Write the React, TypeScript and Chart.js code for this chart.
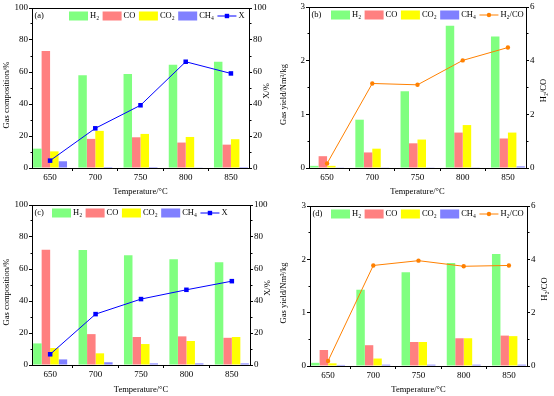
import React, { useEffect, useRef } from "react";
import { Chart, registerables } from "chart.js";
Chart.register(...registerables);

const temps = [650, 700, 750, 800, 850];
const seriesLabels = ["H₂", "CO", "CO₂", "CH₄"];
const seriesColors = ["#80FF80", "#FF8080", "#FFFF00", "#8080FF"];

// panel (a)
const aH2 = [12.1, 58.0, 58.7, 64.5, 66.4];
const aCO = [73.1, 18.2, 19.2, 15.9, 14.6];
const aCO2 = [10.4, 23.2, 21.3, 19.4, 18.0];
const aCH4 = [4.2, 0.6, 0.6, 0.4, 0.6];
const aX = [4.6, 24.8, 39.2, 66.4, 59.1];
// panel (b)
const bH2 = [0.04, 0.9, 1.43, 2.65, 2.45];
const bCO = [0.22, 0.29, 0.46, 0.66, 0.55];
const bCO2 = [0.04, 0.36, 0.53, 0.8, 0.66];
const bCH4 = [0.006, 0.006, 0.006, 0.006, 0.03];
const bRatio = [0.17, 3.15, 3.1, 4.01, 4.49];
// panel (c)
const cH2 = [13.5, 71.9, 68.6, 66.1, 64.2];
const cCO = [72.1, 19.3, 17.5, 17.9, 17.0];
const cCO2 = [10.6, 7.3, 13.1, 15.0, 17.5];
const cCH4 = [3.5, 1.7, 1.0, 1.0, 1.0];
const cX = [6.7, 31.8, 41.2, 47.0, 52.4];
// panel (d)
const dH2 = [0.06, 1.43, 1.76, 1.93, 2.1];
const dCO = [0.3, 0.39, 0.45, 0.52, 0.57];
const dCO2 = [0.05, 0.14, 0.45, 0.52, 0.56];
const dCH4 = [0.02, 0.025, 0.025, 0.025, 0.025];
const dRatio = [0.19, 3.77, 3.95, 3.74, 3.77];

const xTitle = "Temperature/°C";
const compTitle = "Gas composition/%";
const yieldTitle = "Gas yield/Nm³/kg";
const xLabel = "X";
const ratioLabel = "H₂/CO";
const xAxisTitle = "X/%";

const FONT = "'Liberation Serif', 'Times New Roman', serif";
const W = 277;
const H = 198;

type Spec = {
  tag: string;
  bars: number[][];
  line: number[];
  lineLabel: string;
  lineColor: string;
  pointStyle: string;
  pointRadius: number;
  yMax: number;
  yStep: number;
  y2Max: number;
  y2Step: number;
  yTitle: string;
  y2Title: string;
  area: { left: number; right: number; top: number; bottom: number };
  legendStart: number;
};

const specs: Spec[] = [
  {
    tag: "(a)", bars: [aH2, aCO, aCO2, aCH4], line: aX, lineLabel: xLabel,
    lineColor: "#0000FF", pointStyle: "rect", pointRadius: 3.2,
    yMax: 100, yStep: 20, y2Max: 100, y2Step: 20, yTitle: compTitle, y2Title: xAxisTitle,
    area: { left: 32, right: 249, top: 8, bottom: 168 }, legendStart: 37,
  },
  {
    tag: "(b)", bars: [bH2, bCO, bCO2, bCH4], line: bRatio, lineLabel: ratioLabel,
    lineColor: "#FF8000", pointStyle: "circle", pointRadius: 2.2,
    yMax: 3, yStep: 1, y2Max: 6, y2Step: 2, yTitle: yieldTitle, y2Title: ratioLabel,
    area: { left: 32, right: 249, top: 7, bottom: 168 }, legendStart: 22,
  },
  {
    tag: "(c)", bars: [cH2, cCO, cCO2, cCH4], line: cX, lineLabel: xLabel,
    lineColor: "#0000FF", pointStyle: "rect", pointRadius: 3.2,
    yMax: 100, yStep: 20, y2Max: 100, y2Step: 20, yTitle: compTitle, y2Title: xAxisTitle,
    area: { left: 32, right: 250, top: 7, bottom: 167 }, legendStart: 20,
  },
  {
    tag: "(d)", bars: [dH2, dCO, dCO2, dCH4], line: dRatio, lineLabel: ratioLabel,
    lineColor: "#FF8000", pointStyle: "circle", pointRadius: 2.2,
    yMax: 3, yStep: 1, y2Max: 6, y2Step: 2, yTitle: yieldTitle, y2Title: ratioLabel,
    area: { left: 33, right: 250, top: 8, bottom: 168 }, legendStart: 21,
  },
];

const align = (p: number) => Math.round(p - 0.5) + 0.5;

const decor = {
  id: "decor",
  afterDatasetsDraw(chart: any, _args: any, o: any) {
    const { ctx, chartArea: ca, scales } = chart;
    ctx.save();
    ctx.strokeStyle = "#000";
    ctx.lineWidth = 1;
    const L = align(ca.left), R = align(ca.right), T = align(ca.top), B = align(ca.bottom);
    ctx.strokeRect(L, T, R - L, B - T);
    // minor ticks
    const minor = (scale: any, side: string) => {
      const vals = scale.ticks.map((t: any) => t.value);
      for (let i = 0; i < vals.length - 1; i++) {
        const v = (vals[i] + vals[i + 1]) / 2;
        const p = align(scale.getPixelForValue(v));
        ctx.beginPath();
        if (side === "bottom") { ctx.moveTo(p, B); ctx.lineTo(p, B + 2); }
        if (side === "left") { ctx.moveTo(L, p); ctx.lineTo(L - 2, p); }
        if (side === "right") { ctx.moveTo(R, p); ctx.lineTo(R + 2, p); }
        ctx.stroke();
      }
    };
    minor(scales.x, "bottom");
    minor(scales.y, "left");
    minor(scales.y2, "right");
    // legend
    ctx.fillStyle = "#000";
    ctx.font = `8.5px ${FONT}`;
    ctx.textBaseline = "middle";
    ctx.textAlign = "left";
    const ly = ca.top + 8;
    ctx.fillText(o.tag, ca.left + 2.5, ly);
    let x = ca.left + o.legendStart;
    chart.data.datasets.forEach((ds: any) => {
      if (ds.type === "line") {
        ctx.strokeStyle = ds.borderColor;
        ctx.beginPath();
        ctx.moveTo(x, ly);
        ctx.lineTo(x + 19, ly);
        ctx.stroke();
        ctx.fillStyle = ds.borderColor;
        if (ds.pointStyle === "rect") {
          const s = 2.2;
          ctx.fillRect(x + 9.5 - s, ly - s, 2 * s, 2 * s);
        } else {
          ctx.beginPath();
          ctx.arc(x + 9.5, ly, 2.2, 0, Math.PI * 2);
          ctx.fill();
        }
        x += 21;
      } else {
        ctx.fillStyle = ds.backgroundColor;
        ctx.fillRect(x, ly - 4.5, 19, 9);
        x += 21;
      }
      ctx.fillStyle = "#000";
      ctx.fillText(ds.label, x, ly);
      x += ctx.measureText(ds.label).width + 3.5;
    });
    // y titles
    ctx.font = `8.5px ${FONT}`;
    ctx.textAlign = "center";
    const cy = (ca.top + ca.bottom) / 2;
    ctx.save();
    ctx.translate(7, cy + 7);
    ctx.rotate(-Math.PI / 2);
    ctx.fillText(o.yTitle, 0, 0);
    ctx.restore();
    ctx.save();
    ctx.translate(ca.right + 18, cy + 3);
    ctx.rotate(-Math.PI / 2);
    ctx.fillText(o.y2Title, 0, 0);
    ctx.restore();
    ctx.restore();
  },
};

function Panel({ spec, left, top }: { spec: Spec; left: number; top: number }) {
  const ref = useRef<HTMLCanvasElement>(null);
  useEffect(() => {
    const A = spec.area;
    const tickFont = { family: FONT, size: 9 };
    const datasets: any[] = spec.bars.map((vals, k) => ({
      type: "bar",
      label: seriesLabels[k],
      data: temps.map((t, i) => ({ x: t, y: vals[i] })),
      backgroundColor: seriesColors[k],
      borderWidth: 0,
      categoryPercentage: 0.75,
      barPercentage: 1,
      yAxisID: "y",
      order: 1,
    }));
    datasets.push({
      type: "line",
      label: spec.lineLabel,
      data: temps.map((t, i) => ({ x: t, y: spec.line[i] })),
      borderColor: spec.lineColor,
      backgroundColor: spec.lineColor,
      borderWidth: 1,
      pointStyle: spec.pointStyle,
      pointRadius: spec.pointRadius,
      pointBorderWidth: 0,
      yAxisID: "y2",
      order: 0,
    });
    const axisCommon = {
      grid: { drawOnChartArea: false, tickLength: 3, color: "#000" },
      border: { color: "#000", width: 1 },
    };
    const chart = new Chart(ref.current as HTMLCanvasElement, {
      type: "bar",
      data: { datasets },
      options: {
        responsive: false,
        animation: false,
        layout: { padding: { top: A.top, left: 0, right: 0, bottom: 0 } },
        plugins: {
          legend: { display: false },
          tooltip: { enabled: false },
          decor: { tag: spec.tag, legendStart: spec.legendStart, yTitle: spec.yTitle, y2Title: spec.y2Title },
        } as any,
        scales: {
          x: {
            type: "linear",
            min: 630,
            max: 870,
            offset: false,
            afterBuildTicks: (s: any) => { s.ticks = temps.map((v) => ({ value: v })); },
            afterFit: (s: any) => { s.height = H - A.bottom; },
            ticks: { font: tickFont, color: "#000", padding: 1, maxRotation: 0, autoSkip: false, callback: (v: any) => String(v) },
            title: { display: true, text: xTitle, font: { family: FONT, size: 8.5 }, color: "#000", padding: { top: 0, bottom: 1 } },
            ...axisCommon,
          },
          y: {
            position: "left",
            min: 0,
            max: spec.yMax,
            afterFit: (s: any) => { s.width = A.left; },
            ticks: { stepSize: spec.yStep, font: tickFont, color: "#000", padding: 1 },
            ...axisCommon,
          },
          y2: {
            position: "right",
            min: 0,
            max: spec.y2Max,
            afterFit: (s: any) => { s.width = W - A.right; },
            ticks: { stepSize: spec.y2Step, font: tickFont, color: "#000", padding: 1 },
            ...axisCommon,
          },
        } as any,
      },
      plugins: [decor],
    } as any);
    return () => chart.destroy();
  }, [spec]);
  return (
    <canvas
      ref={ref}
      width={W}
      height={H}
      style={{ position: "absolute", left, top, width: W, height: H }}
    />
  );
}

export default function App() {
  return (
    <div style={{ position: "absolute", left: 0, top: 0, width: 554, height: 396, background: "#fff" }}>
      <Panel spec={specs[0]} left={0} top={0} />
      <Panel spec={specs[1]} left={W} top={0} />
      <Panel spec={specs[2]} left={0} top={H} />
      <Panel spec={specs[3]} left={W} top={H} />
    </div>
  );
}
